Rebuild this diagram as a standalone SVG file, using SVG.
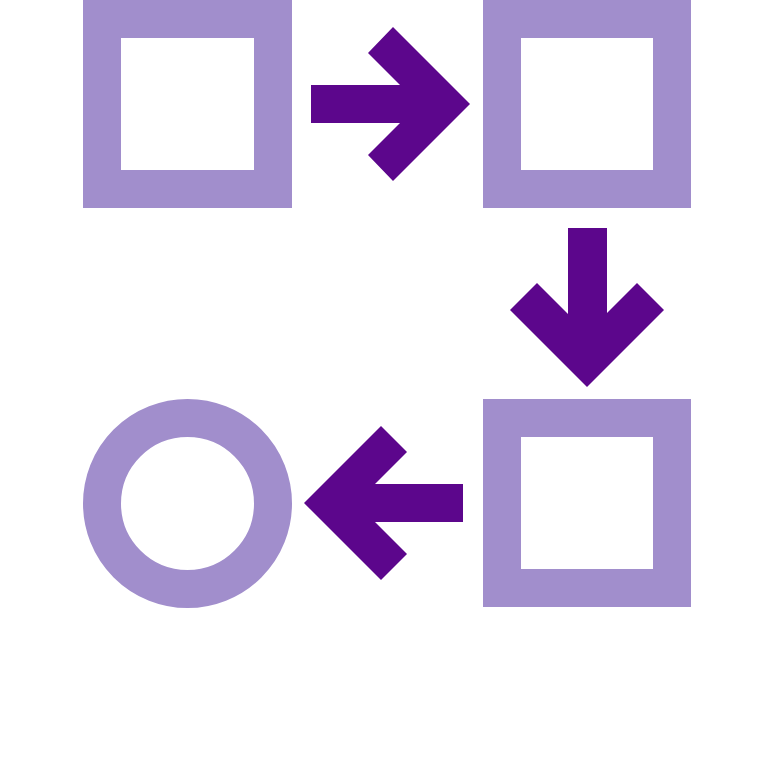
<svg xmlns="http://www.w3.org/2000/svg" width="775" height="775" viewBox="0 0 775 775">
<style>
.node{fill:none;stroke:#A18ECC;stroke-width:38}
.arrow{fill:#5C068C}
</style>
<rect width="775" height="775" fill="#fff"/>
<g id="step1"><rect class="node" x="102" y="19" width="171" height="170"/></g>
<g id="step2"><rect class="node" x="502" y="19" width="170" height="170"/></g>
<g id="step3"><rect class="node" x="502" y="418" width="170" height="170"/></g>
<g id="end"><circle class="node" cx="187.5" cy="503.5" r="85.5"/></g>
<g id="connectors">
<polygon class="arrow" points="311,85 400,85 368,53 393,27 470,104 393,181 368,155 400,123 311,123"/>
<polygon class="arrow" points="568,228 607,228 607,313 637,283 664,310 587,387 510,310 537,283 568,314"/>
<polygon class="arrow" points="463,484 375,484 407,452 381,426 304,503 381,580 407,554 375,522 463,522"/>
</g>
</svg>
